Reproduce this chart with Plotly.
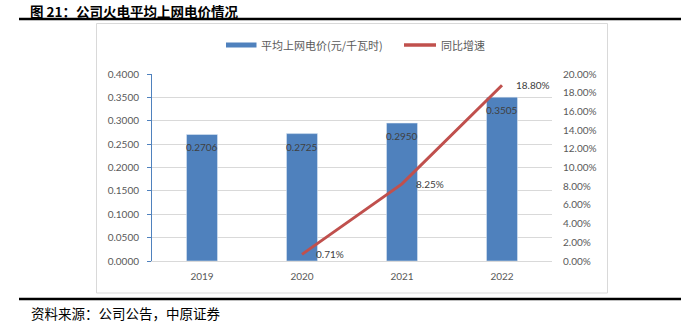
import plotly.graph_objects as go

# Data
years = ["2019", "2020", "2021", "2022"]
price = [0.2706, 0.2725, 0.2950, 0.3505]          # 元/千瓦时
growth_years = ["2020", "2021", "2022"]
growth = [0.0071, 0.0825, 0.1880]                  # 同比增速

BAR = "#4F81BD"
LINE = "#C0504D"
GRID = "#D9D9D9"
TICK = "#595959"
NUM_FONT = "Lato, 'Liberation Sans', sans-serif"
CJK = "'Noto Sans CJK SC', sans-serif"

W, H = 681, 323
px = lambda x: x / W
py = lambda y: 1 - y / H

# category positions on the x axis
pos = {y: i for i, y in enumerate(years)}
bar_x = [pos[y] for y in years]
line_x = [pos[y] for y in growth_years]

fig = go.Figure()
fig.add_trace(go.Bar(
    x=bar_x, y=price, marker_color=BAR, width=0.31,
    yaxis="y", showlegend=False, hoverinfo="skip",
))
fig.add_trace(go.Scatter(
    x=line_x, y=growth, mode="lines", yaxis="y2",
    line=dict(color=LINE, width=3), showlegend=False, hoverinfo="skip",
))

annotations = []
for x, v in zip(bar_x, price):
    annotations.append(dict(
        x=x, y=v, xref="x", yref="y", text=f"{v:.4f}", showarrow=False,
        yanchor="top", yshift=-5, font=dict(size=10, color="#404040", family=NUM_FONT),
    ))
for x, v in zip(line_x, growth):
    annotations.append(dict(
        x=x, y=v, xref="x", yref="y2", text=f"{v*100:.2f}%", showarrow=False,
        xanchor="left", xshift=12, font=dict(size=10, color="#404040", family=NUM_FONT),
    ))

# Title, legend and source text
annotations += [
    dict(x=px(29), y=1, xref="paper", yref="paper", xanchor="left", yanchor="top",
         text="<b>图 21：公司火电平均上网电价情况</b>", showarrow=False, borderpad=0,
         font=dict(size=13.5, color="#000000", family=CJK)),
    dict(x=px(259), y=py(45), xref="paper", yref="paper", xanchor="left", yanchor="middle",
         text="平均上网电价(元/千瓦时)", showarrow=False,
         font=dict(size=11, color=TICK, family=CJK)),
    dict(x=px(439), y=py(45), xref="paper", yref="paper", xanchor="left", yanchor="middle",
         text="同比增速", showarrow=False,
         font=dict(size=11, color=TICK, family=CJK)),
    dict(x=px(29), y=py(313), xref="paper", yref="paper", xanchor="left", yanchor="middle",
         text="资料来源：公司公告，中原证券", showarrow=False,
         font=dict(size=13.5, color="#000000", family=CJK)),
]

shapes = [
    # chart frame
    dict(type="rect", xref="paper", yref="paper", x0=px(96.5), x1=px(607.5), y0=py(293), y1=py(23.5),
         line=dict(color=GRID, width=1), fillcolor="rgba(0,0,0,0)", layer="below"),
    # rules above and below
    dict(type="line", xref="paper", yref="paper", x0=px(19), x1=1, y0=py(19), y1=py(19),
         line=dict(color="#000000", width=2.5)),
    dict(type="line", xref="paper", yref="paper", x0=px(19), x1=1, y0=py(299), y1=py(299),
         line=dict(color="#000000", width=2.5)),
    # legend keys
    dict(type="rect", xref="paper", yref="paper", x0=px(226), x1=px(256.5), y0=py(47.5), y1=py(42.5),
         fillcolor=BAR, line=dict(width=0)),
    dict(type="line", xref="paper", yref="paper", x0=px(404), x1=px(436), y0=py(45), y1=py(45),
         line=dict(color=LINE, width=3.5)),
]

fig.update_layout(
    width=W, height=H, autosize=False,
    margin=dict(l=0, r=0, t=0, b=0, pad=0, autoexpand=False),
    paper_bgcolor="white", plot_bgcolor="white",
    xaxis=dict(
        domain=[px(152), px(552)], range=[-0.5, len(years) - 0.5],
        tickmode="array", tickvals=bar_x, ticktext=years,
        showline=True, linecolor=GRID, linewidth=1, ticks="",
        tickfont=dict(size=10, color=TICK, family=NUM_FONT), ticklabelstandoff=6,
        showgrid=False, zeroline=False, fixedrange=True, automargin=False,
    ),
    yaxis=dict(
        domain=[py(261), py(74)], range=[0, 0.4], dtick=0.05, tickformat=".4f",
        showline=True, linecolor=BAR, linewidth=1, ticks="outside", ticklen=4, tickcolor=BAR,
        showgrid=True, gridcolor=GRID, gridwidth=1, zeroline=False,
        tickfont=dict(size=10, color=TICK, family=NUM_FONT), ticklabelstandoff=6,
        automargin=False,
    ),
    yaxis2=dict(
        overlaying="y", side="right", range=[0, 0.2], dtick=0.02, tickformat=".2%",
        showline=False, showgrid=False, zeroline=False, ticks="",
        tickfont=dict(size=10, color=TICK, family=NUM_FONT), ticklabelstandoff=10,
        anchor="x", automargin=False,
    ),
    annotations=annotations,
    shapes=shapes,
)

fig.write_html("out.html")
